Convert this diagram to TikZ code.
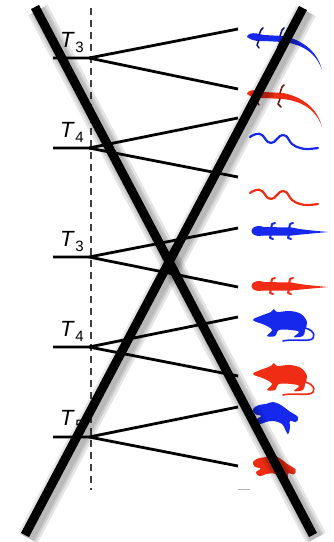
\documentclass[tikz,border=0pt]{standalone}
\usepackage{fontspec}
\setmainfont{Liberation Sans}
\newcommand{\splitlabel}[1]{\textit{T}\kern0.5pt\raisebox{-5pt}{\fontsize{15}{15}\selectfont #1}}
\begin{document}
\begin{tikzpicture}[x=1pt,y=-1pt,
  branch/.style={line width=2.8pt},
  guide/.style={line width=1.1pt, black!75, dash pattern=on 7pt off 5pt},
  cross/.style={line width=9pt},
  xshade/.style={line width=#1, black, opacity=0.1},
  lbl/.style={font=\fontsize{22}{26}\selectfont, anchor=base west, inner sep=0pt},
  lizard/.pic={
    \fill (0,0) .. controls (0,-3) and (5,-4.5) .. (10,-3.5)
      .. controls (13,-3) and (14,-2) .. (17,-2) -- (36,-1)
      .. controls (52,2) and (70,12) .. (75,33)
      .. controls (69,15) and (54,7) .. (36,5) -- (17,4)
      .. controls (12,4.5) and (5,4) .. (0,0) -- cycle;
    \draw[line width=1.5pt, .!45!black, line cap=round, line join=round]
      (12,-2) -- (14,-7) -- (16,-9)  (12,3) -- (10,8) -- (12,11)
      (33,-1) -- (35,-7) -- (37,-9)  (33,5) -- (31,10) -- (34,13);
  },
  gecko/.pic={
    \fill (7,0) ellipse [x radius=7.5, y radius=5];
    \fill (10,-4) -- (40,-3.5) .. controls (48,-1.5) and (60,-0.5) .. (76,1)
      .. controls (60,2.5) and (48,3.5) .. (40,4.5) -- (10,4.5) -- cycle;
    \draw[line width=2pt, line cap=round, line join=round]
      (19,-2) -- (20,-7) -- (23,-8)  (19,3) -- (18,7) -- (21,8)
      (37,-2) -- (38,-7) -- (41,-8)  (37,3) -- (36,7) -- (39,8);
  },
  snake/.pic={
    \draw[line width=2.2pt, line cap=round] plot[smooth, tension=0.7] coordinates
      {(0,2) (6,-1) (12,0) (18,7) (24,7) (30,1) (36,1) (42,9) (50,13) (58,14) (68,13)};
  },
  rat/.pic={
    \fill plot[smooth cycle, tension=0.6] coordinates
      {(0,0) (10,-5) (18,-8) (21,-11) (24,-8) (37,-9) (48,-6) (54,2)
       (52,10) (50,16) (41,17) (46,12) (38,10) (26,10) (22,16) (14,16) (19,10) (12,5)};
    \draw[line width=1.6pt, line cap=round] (52,8) .. controls (62,10) and (64,19) .. (56,20)
      .. controls (48,21) and (38,19) .. (30,21);
  },
  frog/.pic={
    \fill plot[smooth cycle, tension=0.6] coordinates
      {(0,1) (6,-3) (13,-4) (20,-6) (28,-3) (36,3) (45,9) (43,14) (37,13)
       (37,20) (35,26) (32,21) (29,16) (21,13) (13,14) (7,16) (3,12) (8,8) (2,6)};
  }]
\definecolor{iblue}{RGB}{22,40,235}
\definecolor{ired}{RGB}{240,45,20}
\useasboundingbox (0,0) rectangle (333,542);

% vertical time guide
\coordinate (gtop) at (91,8);
\coordinate (gbot) at (91,490);
\draw[guide] (gtop) -- (gbot);
\coordinate (e1) at (238,489);
\coordinate (e2) at (250,489);
\draw[black!30, line width=1pt] (e1) -- (e2);

% splits: root, fork, upper leaf, lower leaf
\foreach \n/\y/\ya/\yb in {1/58/29/89, 2/148/118/177, 3/257/228/287, 4/347/317/376, 5/437/407/466}{
  \coordinate (r\n) at (53,\y);
  \coordinate (f\n) at (89,\y);
  \coordinate (a\n) at (238,\ya);
  \coordinate (b\n) at (238,\yb);
  \draw[branch] (r\n) -- (f\n) -- (a\n);
  \draw[branch] (f\n) -- (b\n);
}

% split labels
\node[lbl] (l1) at (60,47) {\splitlabel{3}};
\node[lbl] (l2) at (60,137) {\splitlabel{4}};
\node[lbl] (l3) at (60,246) {\splitlabel{3}};
\node[lbl] (l4) at (60,336) {\splitlabel{4}};
\node[lbl] (l5) at (60,425) {\splitlabel{5}};

% species silhouettes
\pic[color=iblue] (s1) at (247,37) {lizard};
\pic[color=ired] (s2) at (247,94) {lizard};
\pic[color=iblue] (s3) at (250,135) {snake};
\pic[color=ired] (s4) at (250,191) {snake};
\pic[color=iblue] (s5) at (252,231) {gecko};
\pic[color=ired] (s6) at (252,286) {gecko};
\pic[color=iblue] (s7) at (253,320) {rat};
\pic[color=ired] (s8) at (253,374) {rat};
\pic[color=iblue] (s9) at (253,408) {frog};
\pic[color=ired, scale=0.95] (s10) at (253,461) {frog};

% the large cross with its soft shadow
\coordinate (xa1) at (35,7);
\coordinate (xa2) at (313,535);
\coordinate (xb1) at (303,8);
\coordinate (xb2) at (25,535);
\foreach \w in {22pt,17pt,13pt}{
  \draw[xshade=\w, transform canvas={shift={(3pt,-3pt)}}] (xa1) -- (xa2);
  \draw[xshade=\w, transform canvas={shift={(3pt,-3pt)}}] (xb1) -- (xb2);
}
\draw[cross] (xa1) -- (xa2);
\draw[cross] (xb1) -- (xb2);
\end{tikzpicture}
\end{document}
